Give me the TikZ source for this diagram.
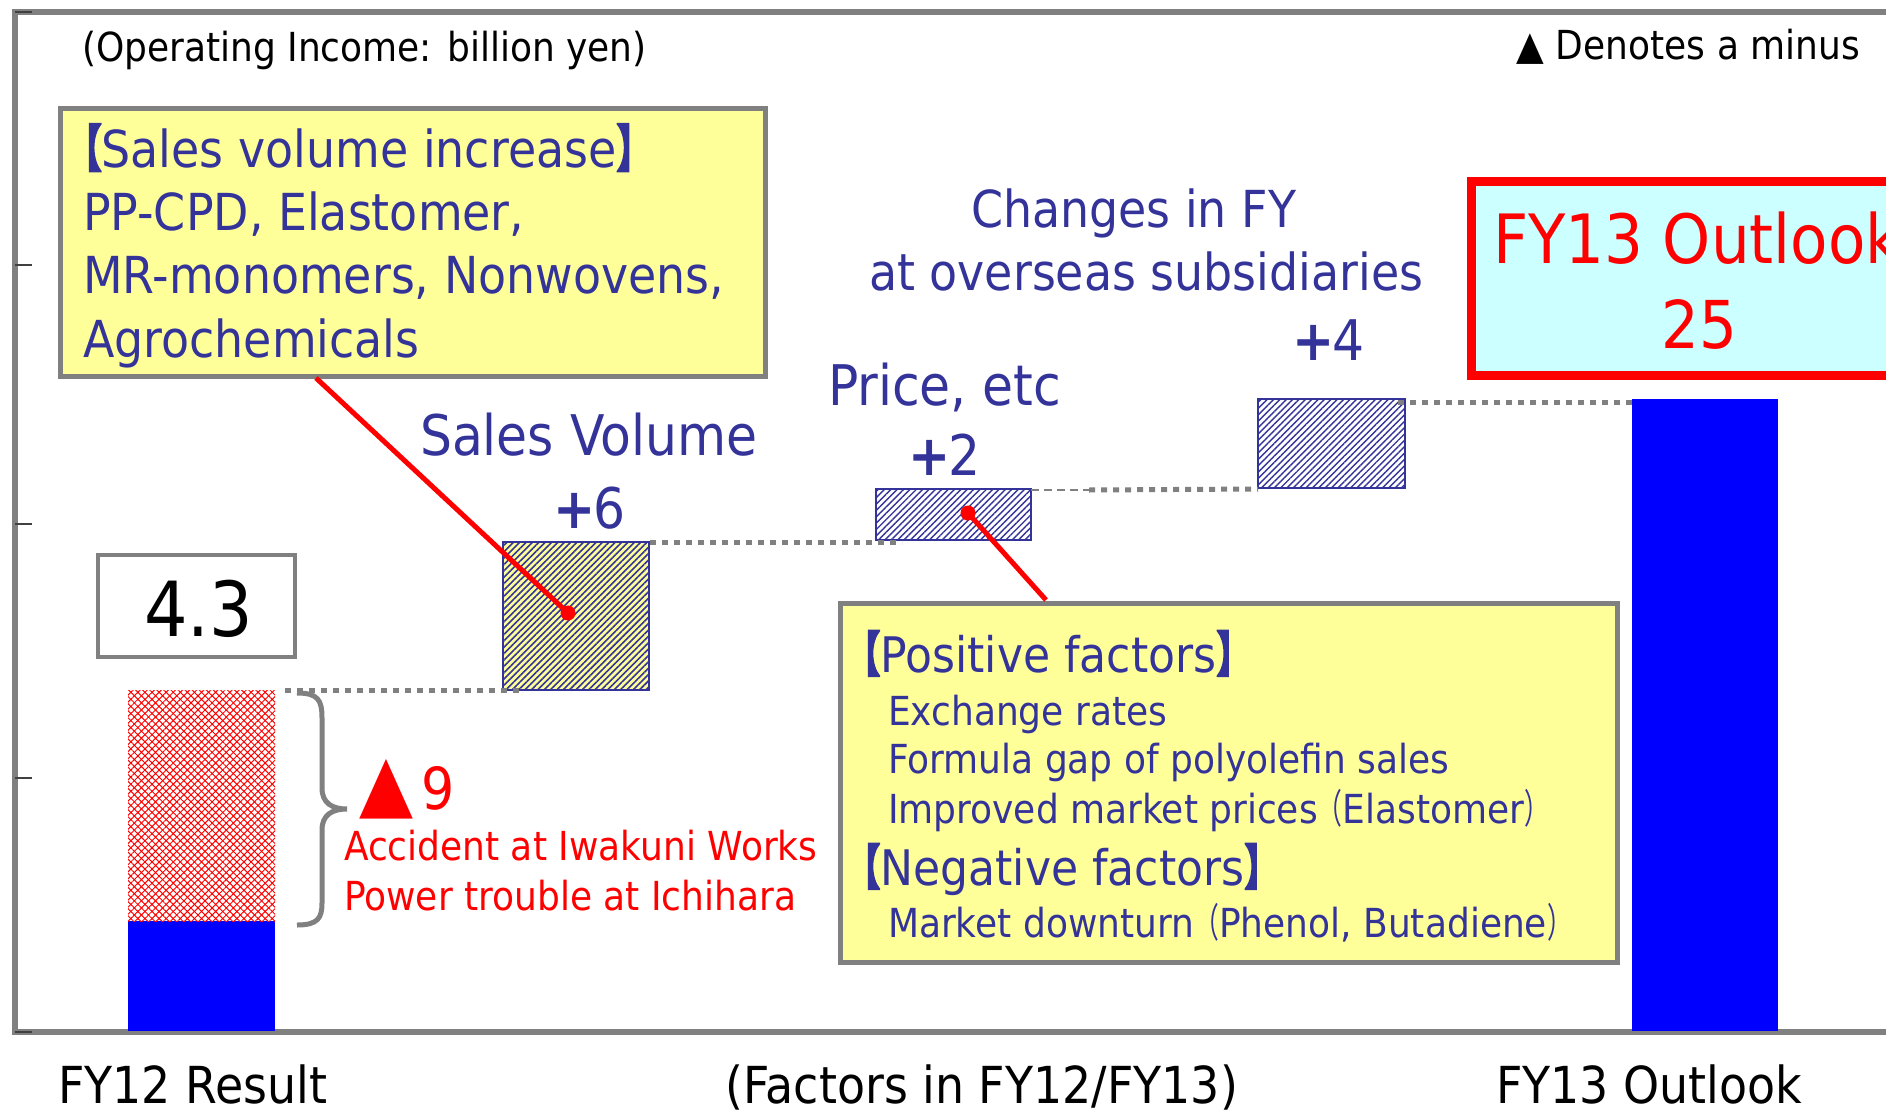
\documentclass[tikz,border=0pt]{standalone}
\usepackage{fontspec}
\setmainfont{DejaVu Sans}[FakeStretch=0.9]
\newfontfamily\cjkb{Noto Sans CJK JP}[FakeStretch=0.62]
\newfontfamily\cjkk{Noto Sans CJK JP}[FakeStretch=0.7, FakeBold=4]
\usetikzlibrary{patterns.meta}
\definecolor{navy}{HTML}{333399}
\definecolor{gr}{HTML}{808080}
\definecolor{yel}{HTML}{FFFF99}
\definecolor{cya}{HTML}{CCFFFF}
\definecolor{bl}{HTML}{0000FF}
\definecolor{rd}{HTML}{FF0000}
\newcommand{\myfs}[1]{\fontsize{#1}{#1}\selectfont}
\newcommand{\mylb}{\kern-16pt{\cjkk 【}}
\newcommand{\myrb}{{\cjkk 】}}
\newcommand{\mylp}{{\cjkb （}}
\newcommand{\myrp}{{\cjkb ）}}
\newcommand{\bplus}{{\bfseries +}\kern-2pt}
\tikzset{
  txt/.style={inner sep=0pt, outer sep=0pt, anchor=base west},
  dotline/.style={gr, line width=5pt, dash pattern=on 6pt off 6pt},
  redline/.style={rd, line width=5pt},
  panel/.style={draw=gr, line width=5pt, fill=yel, inner sep=0pt, outer sep=0pt},
  hatchbox/.style={draw=navy, line width=1.2pt},
}
\begin{document}
\begin{tikzpicture}[x=1pt,y=-1pt]
\useasboundingbox (0,0) rectangle (1886,1113);
\clip (0,0) rectangle (1886,1113);
\fill[white] (0,0) rectangle (1886,1113);

% frame and ticks
\draw[gr, line width=6pt] (1950,12) -- (15,12) -- (15,1032) -- (1950,1032);
\foreach \yy in {12,265,524,778,1032} \draw[black!75, line width=1.5pt] (15,\yy) -- (32,\yy);

% FY12 bar
\fill[bl] (128,921) rectangle (275,1031);
\fill[white] (128,690) rectangle (275,921);
\fill[pattern={Lines[angle=45,distance=5pt,line width=1pt]}, pattern color=rd] (128,690) rectangle (275,921);
\fill[pattern={Lines[angle=-45,distance=5pt,line width=1pt]}, pattern color=rd] (128,690) rectangle (275,921);
\coordinate (fy12top) at (285,690);

% Sales volume box
\fill[yel] (503,542) rectangle (649,690);
\fill[pattern={Lines[angle=45,distance=4.5pt,line width=1.6pt]}, pattern color=navy] (503,542) rectangle (649,690);
\draw[hatchbox] (503,542) rectangle (649,690);
\coordinate (svL) at (523,690);
\coordinate (svR) at (650,542);

% Price box
\fill[pattern={Lines[angle=45,distance=4.5pt,line width=1.4pt]}, pattern color=navy] (876,489) rectangle (1031,540);
\draw[hatchbox] (876,489) rectangle (1031,540);
\coordinate (prL) at (902,542);
\coordinate (prR) at (1031,490);
\coordinate (prM) at (1089,490);

% Overseas box
\fill[pattern={Lines[angle=45,distance=4.5pt,line width=1.4pt]}, pattern color=navy] (1258,399) rectangle (1405,488);
\draw[hatchbox] (1258,399) rectangle (1405,488);
\coordinate (ovL) at (1258,489);
\coordinate (ovR) at (1398,402);

% FY13 bar
\fill[bl] (1632,399) rectangle (1778,1031);
\coordinate (fy13top) at (1636,402);

% dotted connectors
\draw[dotline] (fy12top) -- (svL);
\draw[dotline] (svR) -- (prL);
\draw[gr, line width=2pt, dash pattern=on 8pt off 5pt] (prR) -- (prM);
\draw[dotline] (prM) -- (ovL);
\draw[dotline] (ovR) -- (fy13top);

% brace
\draw[gr, line width=5pt] (297,693) .. controls (318,693) and (322,700) .. (322,718) -- (322,788) .. controls (322,803) and (332,809) .. (347,809) .. controls (332,809) and (322,815) .. (322,830) -- (322,903) .. controls (322,918) and (318,925) .. (297,925);

% titles
\node[txt] (title) at (82,62) {\myfs{40}(Operating Income: billion yen)};
\node[txt, anchor=base east] (note) at (1860,60) {\myfs{40}▲ Denotes a minus};

% box 1
\node[panel, minimum width=705pt, minimum height=268pt] (box1) at (412.5,242.5) {};
\node[txt, text=navy] (b1a) at (82,167) {\myfs{51}\mylb Sales volume increase\myrb};
\node[txt, text=navy] (b1b) at (83,230) {\myfs{51}PP-CPD, Elastomer,};
\node[txt, text=navy] (b1c) at (83,293) {\myfs{51}MR-monomers, Nonwovens,};
\node[txt, text=navy] (b1d) at (83,357) {\myfs{51}Agrochemicals};
\coordinate (p1) at (316,378);
\coordinate (d1) at (568,613);
\draw[redline] (p1) -- (d1);
\fill[rd] (d1) circle (7.5pt);

% labels of steps
\node[txt, text=navy] (svlab) at (420,455) {\myfs{56}Sales Volume};
\node[txt, text=navy] (svval) at (553,528) {\myfs{56}\bplus 6};
\node[txt, text=navy] (prlab) at (828,405) {\myfs{56}Price, etc};
\node[txt, text=navy] (prval) at (908,475) {\myfs{56}\bplus 2};
\node[txt, text=navy] (ovlab1) at (971,227) {\myfs{51}Changes in FY};
\node[txt, text=navy] (ovlab2) at (869,290) {\myfs{51}at overseas subsidiaries};
\node[txt, text=navy] (ovval) at (1292,360) {\myfs{56}\bplus 4};

% FY13 outlook box
\node[draw=rd, line width=9pt, fill=cya, minimum width=489pt, minimum height=194pt, inner sep=0pt] (fy13box) at (1715.5,278.5) {};
\node[txt, text=rd] (fy13t) at (1493,263) {\myfs{68}FY13 Outlook};
\node[txt, text=rd, anchor=base] (fy13v) at (1699,348) {\myfs{66}25};

% 4.3 box
\node[draw=gr, line width=4pt, fill=white, minimum width=197pt, minimum height=102pt, inner sep=0pt] (box43) at (196.5,606) {};
\node[txt] (v43) at (144,636) {\myfs{76}4.3};

% minus 9
\node[txt, text=rd] (m9a) at (359,809) {\myfs{78}▲};
\node[txt, text=rd] (m9b) at (421,809) {\myfs{58}9};
\node[txt, text=rd] (acc1) at (344,860) {\myfs{40}Accident at Iwakuni Works};
\node[txt, text=rd] (acc2) at (344,910) {\myfs{40}Power trouble at Ichihara};

% box 2
\node[panel, minimum width=777pt, minimum height=359pt] (box2) at (1228.5,782.5) {};
\coordinate (p2) at (1046,600);
\coordinate (d2) at (968,513);
\draw[redline] (p2) -- (d2);
\fill[rd] (d2) circle (7.5pt);
\node[txt, text=navy] (b2a) at (862,672) {\myfs{49}\mylb Positive factors\myrb};
\node[txt, text=navy] (b2b) at (888,725) {\myfs{40}Exchange rates};
\node[txt, text=navy] (b2c) at (888,773) {\myfs{40}Formula gap of polyolefin sales};
\node[txt, text=navy] (b2d) at (888,823) {\myfs{40}Improved market prices\mylp Elastomer\myrp};
\node[txt, text=navy] (b2e) at (862,885) {\myfs{49}\mylb Negative factors\myrb};
\node[txt, text=navy] (b2f) at (888,937) {\myfs{40}Market downturn\mylp Phenol, Butadiene\myrp};

% bottom labels
\node[txt] (x1) at (58,1103) {\myfs{51}FY12 Result};
\node[txt, anchor=base east] (x2) at (1238,1103) {\myfs{51}(Factors in FY12/FY13)};
\node[txt] (x3) at (1496,1103) {\myfs{51}FY13 Outlook};
\end{tikzpicture}
\end{document}
